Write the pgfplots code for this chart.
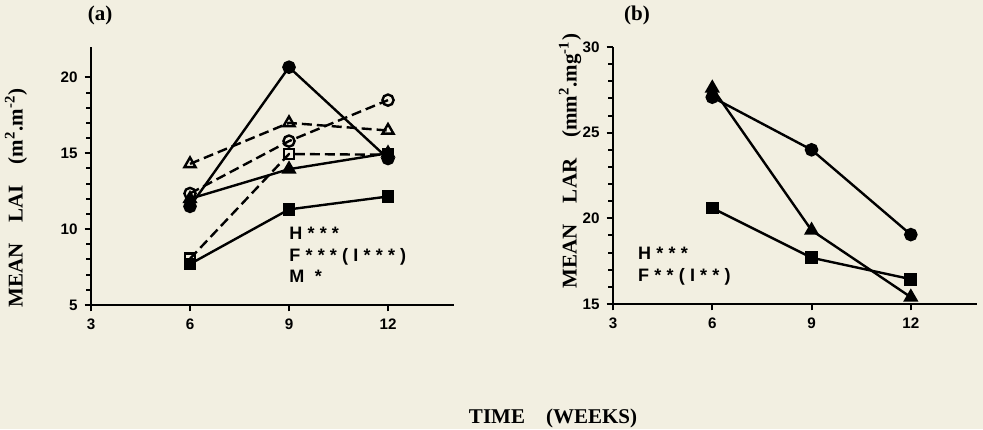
\documentclass[border=0pt]{standalone}
\usepackage{fontspec}
\setmainfont{Liberation Serif}
\newfontfamily\hv{Liberation Sans}
\usepackage{xcolor}
\usepackage{pgfplots}
\pgfplotsset{compat=1.18}
\definecolor{cream}{RGB}{242,239,225}
\pagecolor{cream}
\pgfplotsset{
 myax/.style={
  scale only axis, axis lines=left, axis line style={-, line width=1.1pt},
  xmin=3, xmax=14, xtick={3,6,9,12},
  tick align=outside, major tick length=3.2pt, minor tick length=2.4pt,
  every tick/.style={line width=1pt, black},
  minor y tick num=4,
  /pgf/number format/assume math mode=true,
  ticklabel style={font=\hv\bfseries\fontsize{7.6}{8}\selectfont},
  clip=false,
 },
 s/.style={line width=1.2pt, black, mark size=2.8pt, mark options={solid}},
 d/.style={line width=1.2pt, black, dash pattern=on 5pt off 2.5pt, mark size=2.8pt, mark options={solid, fill=cream}},
}
\newcommand{\ann}{\hv\bfseries\fontsize{9}{10}\selectfont}
\newcommand{\gs}{\hspace{2.6pt}}
\begin{document}
\begin{tikzpicture}
\useasboundingbox (0,0) rectangle (491.5pt,-214.5pt);
\begin{axis}[myax, at={(45.5pt,-152.5pt)}, anchor=south west,
  width=181.5pt, height=129pt, ymin=5, ymax=22, ytick={5,10,15,20}]
\addplot[s, mark=*] coordinates {(6,11.5)(9,20.67)(12,14.65)};
\addplot[s, mark=triangle*, mark size=3.2pt] coordinates {(6,12.0)(9,13.95)(12,15.0)};
\addplot[s, mark=square*, mark size=2.6pt] coordinates {(6,7.7)(9,11.3)(12,12.15)};
\addplot[d, mark=o] coordinates {(6,12.35)(9,15.8)(12,18.5)};
\addplot[d, mark=triangle, mark size=3.2pt] coordinates {(6,14.3)(9,17.0)(12,16.5)};
\addplot[d, mark=square, mark size=2.6pt] coordinates {(6,8.05)(9,14.95)(12,14.9)};
\node[anchor=west, inner sep=0pt, font=\ann] at (axis cs:9.0,9.72) {H\gs*\gs*\gs*};
\node[anchor=west, inner sep=0pt, font=\ann] at (axis cs:9.0,8.15) {F\gs*\gs*\gs*\gs(\gs I\gs*\gs*\gs*\gs)};
\node[anchor=west, inner sep=0pt, font=\ann] at (axis cs:9.0,6.9) {M\gs\gs*};
\end{axis}
\begin{axis}[myax, at={(306.5pt,-152pt)}, anchor=south west,
  width=182pt, height=128.5pt, ymin=15, ymax=30, ytick={15,20,25,30}]
\addplot[s, mark=*] coordinates {(6,27.07)(9,24.0)(12,19.05)};
\addplot[s, mark=triangle*, mark size=3.2pt] coordinates {(6,27.6)(9,19.3)(12,15.4)};
\addplot[s, mark=square*, mark size=2.6pt] coordinates {(6,20.6)(9,17.7)(12,16.45)};
\node[anchor=west, inner sep=0pt, font=\ann] at (axis cs:3.75,17.98) {H\gs*\gs*\gs*};
\node[anchor=west, inner sep=0pt, font=\ann] at (axis cs:3.75,16.6) {F\gs*\gs*\gs(\gs I\gs*\gs*\gs)};
\end{axis}
\node[font=\bfseries\fontsize{10.5}{12}\selectfont] at (50pt,-7.5pt) {(a)};
\node[font=\bfseries\fontsize{10.5}{12}\selectfont] at (318.5pt,-7.5pt) {(b)};
\node[rotate=90, font=\bfseries\fontsize{10.5}{12}\selectfont] at (8pt,-99pt) {MEAN\hspace{1em}LAI\hspace{1em}(m\textsuperscript{2}.m\textsuperscript{-2})};
\node[rotate=90, font=\bfseries\fontsize{10.5}{12}\selectfont] at (285pt,-80.5pt) {MEAN\hspace{1em}LAR\hspace{1em}(mm\textsuperscript{2}.mg\textsuperscript{-1})};
\node[font=\bfseries\fontsize{10.5}{12}\selectfont] at (276.5pt,-209pt) {TIME\hspace{1em}(WEEKS)};
\end{tikzpicture}
\end{document}
